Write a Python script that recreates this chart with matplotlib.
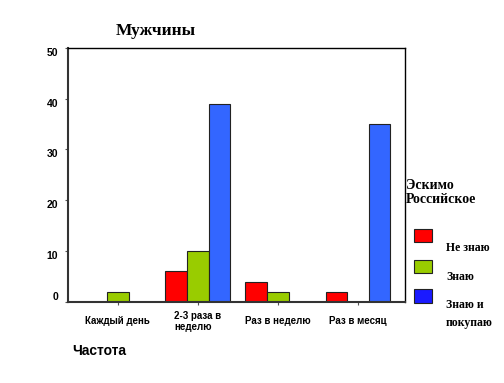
import matplotlib.pyplot as plt
import numpy as np
from matplotlib.patches import Rectangle

# data
categories = ['Каждый день', '2-3 раза в\nнеделю', 'Раз в неделю', 'Раз в месяц']
series_names = ['Не знаю', 'Знаю', 'Знаю и\nпокупаю']
ne_znayu = [0, 6, 4, 2]
znayu = [2, 10, 2, 0]
znayu_pokupayu = [0, 39, 0, 35]
yticks = [0, 10, 20, 30, 40, 50]

colors = ['#ff0000', '#99cc00', '#3366ff']
legend_colors = ['#ff0000', '#99cc00', '#1a1aff']

fig = plt.figure(figsize=(5.04, 3.83), dpi=100)
ax = fig.add_axes([0.135, 0.2115, 0.669, 0.664])

x = np.arange(len(categories))
w = 0.27
for i, vals in enumerate([ne_znayu, znayu, znayu_pokupayu]):
    ax.bar(x + (i - 1) * w, vals, w, color=colors[i], edgecolor='#222222', linewidth=0.8)

ax.set_xlim(-0.62, 3.59)
ax.set_ylim(0, 50)
ax.set_yticks(yticks)
ax.set_yticklabels([str(v) for v in yticks], fontsize=7.5, fontweight='bold', family='Liberation Sans')
# in the original the labels sit a little below their ticks, except the 0
for lab, v in zip(ax.get_yticklabels(), yticks):
    lab.set_va('bottom' if v == 0 else 'top')
ax.set_xticks(x)
ax.set_xticklabels(categories, fontsize=7, fontweight='bold', family='Liberation Sans',
                   ha='center', va='center', multialignment='left', linespacing=1.1)
ax.tick_params(axis='x', length=2, pad=12, color='#555555')
ax.tick_params(axis='y', length=2, pad=5, color='#555555')

for s in ['left', 'bottom']:
    ax.spines[s].set_color('#333333')
    ax.spines[s].set_linewidth(1.5)
for s in ['top', 'right']:
    ax.spines[s].set_linestyle((0, (1, 1)))
    ax.spines[s].set_color('black')
    ax.spines[s].set_linewidth(1.0)

fig.text(0.31, 0.92, 'Мужчины', family='Liberation Serif', fontweight='bold',
         fontsize=12.5, ha='center', va='center')
fig.text(0.143, 0.083, 'Частота', family='Liberation Sans', fontweight='bold',
         fontsize=10, ha='left', va='center')

# legend
fig.text(0.806, 0.497, 'Эскимо\nРоссийское', family='Liberation Serif', fontweight='bold',
         fontsize=10, ha='left', va='center', linespacing=1.15)
patch_y = [0.368, 0.287, 0.21]
label_y = [0.352, 0.277, 0.18]
for c, py, ly, name in zip(legend_colors, patch_y, label_y, series_names):
    fig.patches.append(Rectangle((0.822, py), 0.036, 0.035, transform=fig.transFigure,
                                 facecolor=c, edgecolor='#222222', linewidth=0.8))
    fig.text(0.885, ly, name, family='Liberation Serif', fontweight='bold',
             fontsize=8.5, ha='left', va='center', linespacing=1.6)

fig.savefig('out.png', dpi=100)
